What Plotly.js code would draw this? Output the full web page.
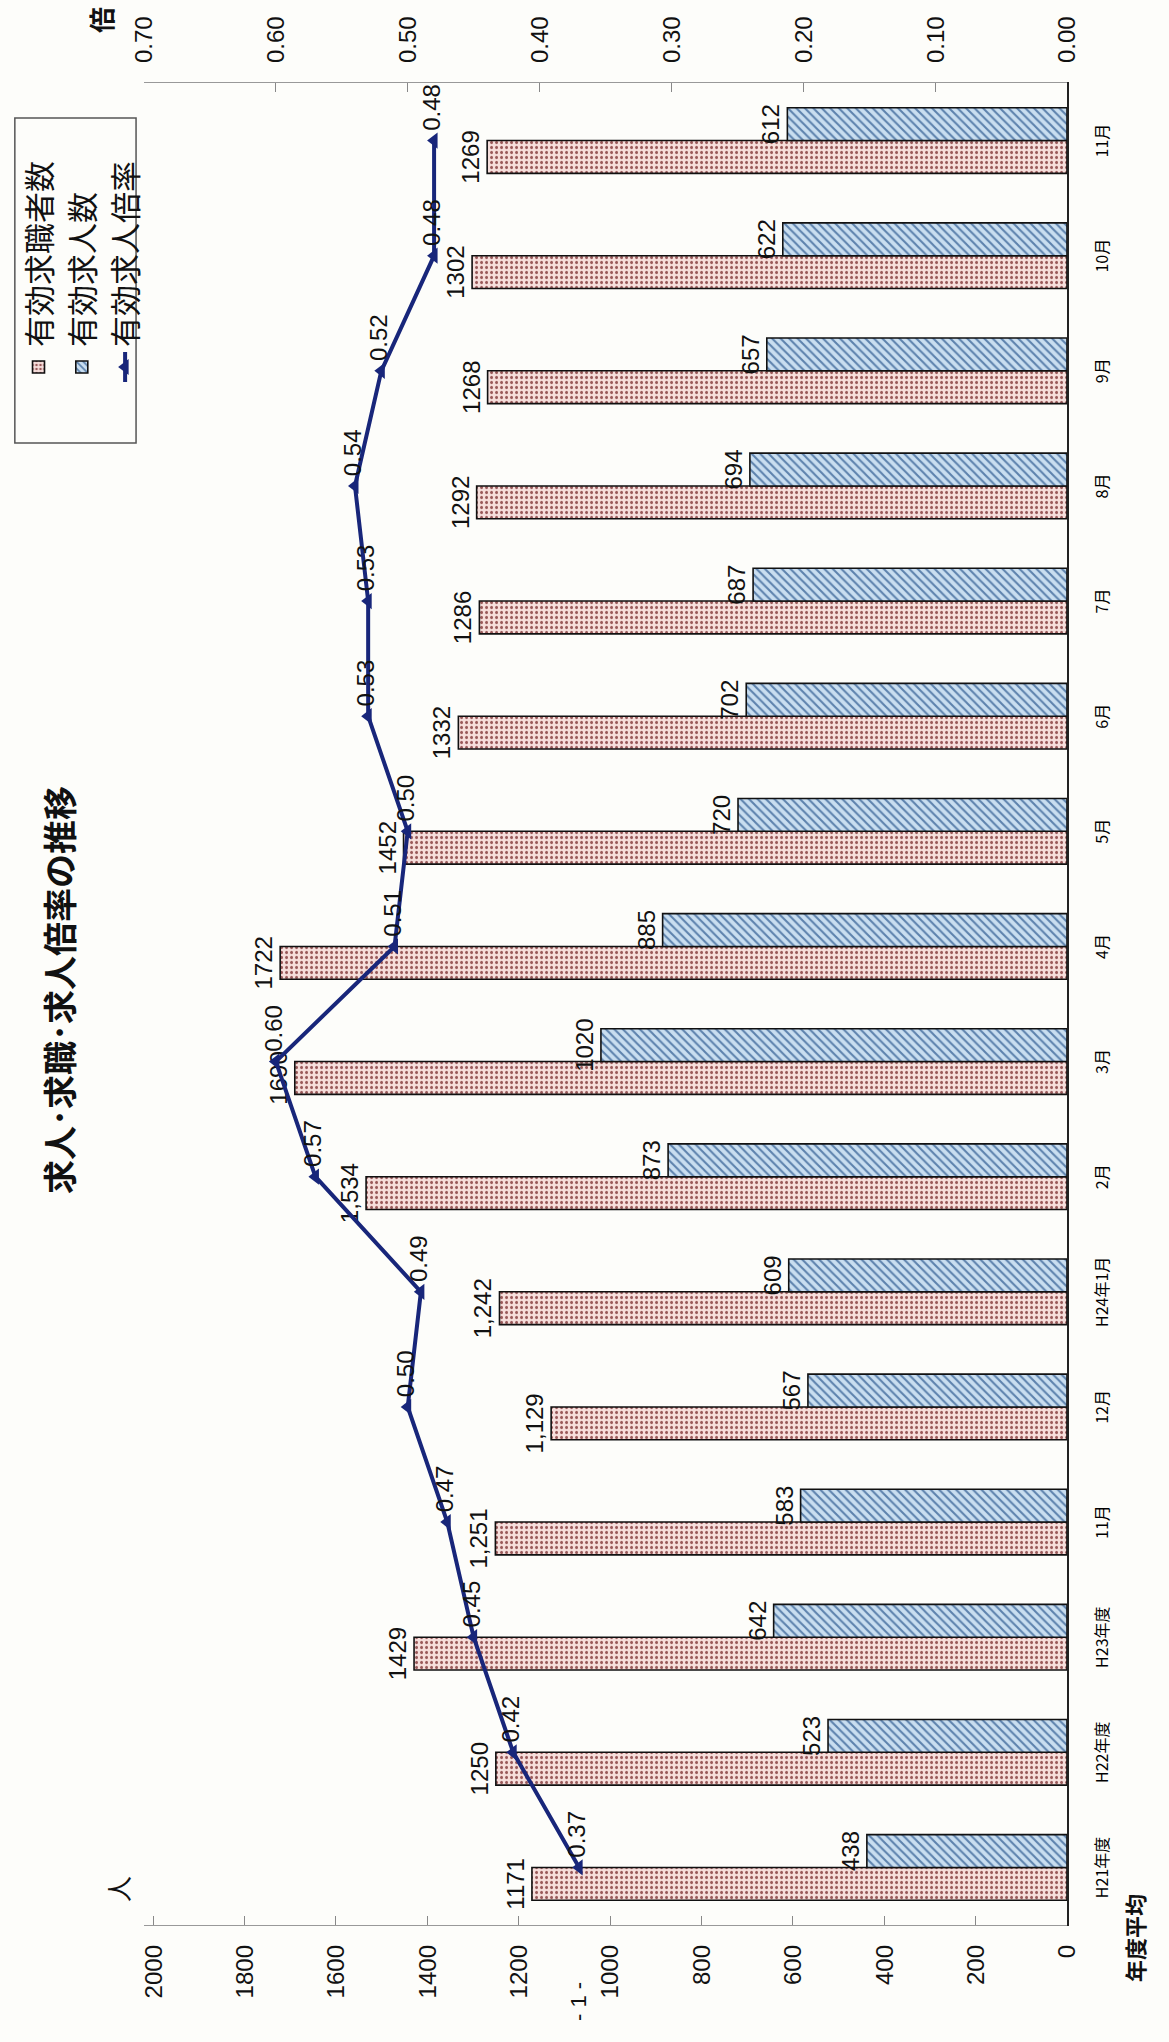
<!DOCTYPE html>
<html>
<head>
<meta charset="utf-8">
<script src="https://cdn.plot.ly/plotly-3.0.1.min.js"></script>
<style>
  html, body { margin:0; padding:0; background:#fdfdfa; overflow:hidden; }
  #page { position:absolute; left:0; top:0; width:1169px; height:2042px; background:#fdfdfa; }
  #chart { position:absolute; left:0; top:0; width:2042px; height:1169px;
           transform-origin:0 0; transform:translate(0px, 2042px) rotate(-90deg); }
</style>
</head>
<body>
<div id="page"><div id="chart"></div></div>
<script>
// ---- data ----
const categories = ["H21年度","H22年度","H23年度","11月","12月","H24年1月","2月","3月","4月","5月","6月","7月","8月","9月","10月","11月"];
const seekers  = [1171,1250,1429,1251,1129,1242,1534,1690,1722,1452,1332,1286,1292,1268,1302,1269];
const seekerLabels = ["1171","1250","1429","1,251","1,129","1,242","1,534","1690","1722","1452","1332","1286","1292","1268","1302","1269"];
const openings = [438,523,642,583,567,609,873,1020,885,720,702,687,694,657,622,612];
const ratio    = [0.37,0.42,0.45,0.47,0.50,0.49,0.57,0.60,0.51,0.50,0.53,0.53,0.54,0.52,0.48,0.48];
const leftTicks  = [0,200,400,600,800,1000,1200,1400,1600,1800,2000];
const rightTicks = [0,0.1,0.2,0.3,0.4,0.5,0.6,0.7];
const seriesNames = ["有効求職者数","有効求人数","有効求人倍率"];

const FONT = "Liberation Sans, Arial, Noto Sans CJK JP, sans-serif";
const JFONT = "Noto Sans CJK JP, Liberation Sans, sans-serif";
const pos = categories.map((c, i) => i);

// plot area in pixels (unrotated frame 2042 x 1169)
const M = {l:117, r:83, t:138, b:102};
const W = 2042, H = 1169;
const pw = W - M.l - M.r, ph = H - M.t - M.b;
const px = X => (X - M.l) / pw;
const py = Y => (H - M.b - Y) / ph;

const traces = [
  {
    type:"bar", name:seriesNames[0], x:pos, y:seekers, text:seekerLabels,
    textposition:"outside", textangle:0, constraintext:"none", cliponaxis:false,
    textfont:{family:FONT, size:24, color:"#111"},
    marker:{color:"#f3d9d5", line:{color:"#111", width:1.6},
            pattern:{shape:".", fgcolor:"#9a5a5a", bgcolor:"#f6dedb", size:5, solidity:0.3}},
    hoverinfo:"skip"
  },
  {
    type:"bar", name:seriesNames[1], x:pos, y:openings, text:openings.map(String),
    textposition:"outside", textangle:0, constraintext:"none", cliponaxis:false,
    textfont:{family:FONT, size:24, color:"#111"},
    marker:{color:"#c4dbef", line:{color:"#111", width:1.6},
            pattern:{shape:"/", fgcolor:"#5d82ad", bgcolor:"#c9def0", size:6, solidity:0.35}},
    hoverinfo:"skip"
  },
  {
    type:"scatter", mode:"lines+markers+text", name:seriesNames[2], x:pos, y:ratio, yaxis:"y2",
    texttemplate:"%{y:.2f}", textposition:"middle right", cliponaxis:false,
    textfont:{family:FONT, size:24, color:"#111"},
    line:{color:"#18267a", width:4},
    marker:{symbol:"triangle-up", size:14, color:"#18267a"},
    hoverinfo:"skip"
  }
];

const layout = {
  width:W, height:H,
  margin:{l:M.l, r:M.r, t:M.t, b:M.b},
  paper_bgcolor:"#fdfdfa", plot_bgcolor:"rgba(0,0,0,0)",
  font:{family:FONT, color:"#111"},
  barmode:"group", bargap:0.43, bargroupgap:0,
  showlegend:true,
  legend:{x:px(1655), y:py(5), xanchor:"left", yanchor:"top",
          bgcolor:"rgba(0,0,0,0)", borderwidth:0,
          font:{family:JFONT, size:31, color:"#111"}, itemwidth:30, tracegroupgap:0,
          traceorder:"normal"},
  shapes:[
    {type:"rect", xref:"paper", yref:"paper", x0:px(1599), x1:px(1924), y0:py(8), y1:py(130),
     line:{color:"#555", width:1.5}, fillcolor:"rgba(0,0,0,0)", layer:"below"}
  ],
  xaxis:{range:[-0.5, 15.5], tickvals:pos, ticktext:categories,
         tickfont:{family:JFONT, size:16, color:"#000"},
         ticks:"outside", ticklen:20, tickcolor:"rgba(0,0,0,0)",
         showline:true, linecolor:"#222", linewidth:1.5, showgrid:false, zeroline:false, fixedrange:true},
  yaxis:{range:[0, 2020], tickvals:leftTicks, ticktext:leftTicks.map(String),
         tickfont:{family:FONT, size:24, color:"#111"},
         ticks:"inside", ticklen:9, tickcolor:"#888", ticklabelstandoff:14,
         showline:true, linecolor:"#999", linewidth:1.2, showgrid:false, zeroline:false, fixedrange:true},
  yaxis2:{range:[0, 0.70], overlaying:"y", side:"right", tickvals:rightTicks,
          ticktext:rightTicks.map(v => v.toFixed(2)),
          tickfont:{family:FONT, size:24, color:"#111"},
          ticks:"inside", ticklen:9, tickcolor:"#888", ticklabelstandoff:14,
          showline:true, linecolor:"#999", linewidth:1.2, showgrid:false, zeroline:false, fixedrange:true},
  annotations:[
    {text:"<b>求人･求職･求人倍率の推移</b>", xref:"paper", yref:"paper", x:px(1052), y:py(52),
     xanchor:"center", yanchor:"middle", showarrow:false, font:{family:JFONT, size:34, color:"#111"}},
    {text:"人", xref:"paper", yref:"paper", x:px(153), y:py(111), xanchor:"center", yanchor:"middle",
     showarrow:false, font:{family:JFONT, size:26, color:"#111"}},
    {text:"<b>倍</b>", xref:"paper", yref:"paper", x:px(2022), y:py(94), xanchor:"center", yanchor:"middle",
     showarrow:false, font:{family:JFONT, size:26, color:"#111"}},
    {text:"<b>年度平均</b>", xref:"paper", yref:"paper", x:px(104), y:py(1134), xanchor:"center", yanchor:"middle",
     showarrow:false, font:{family:JFONT, size:22, color:"#111"}},
    {text:"- 1 -", xref:"paper", yref:"paper", x:px(40), y:py(575), xanchor:"center", yanchor:"middle",
     showarrow:false, font:{family:FONT, size:22, color:"#111"}}
  ]
};

Plotly.newPlot("chart", traces, layout, {displayModeBar:false, staticPlot:true});
</script>
</body>
</html>
